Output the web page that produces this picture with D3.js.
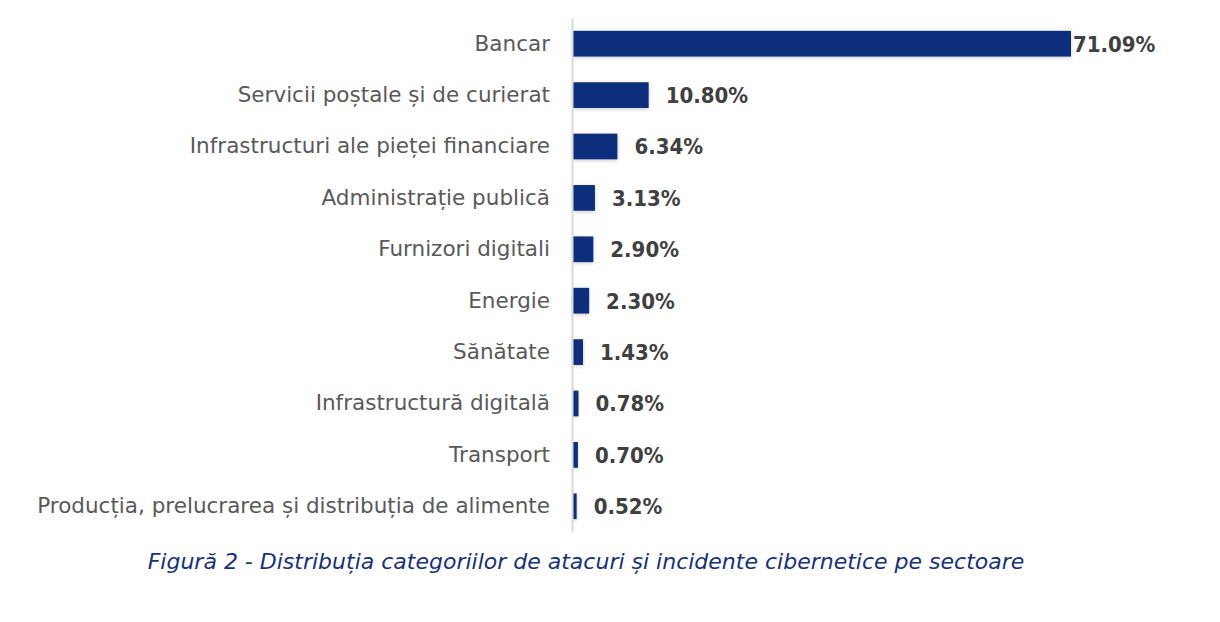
<!DOCTYPE html>
<html>
<head>
<meta charset="utf-8">
<script src="https://cdn.jsdelivr.net/npm/d3@7"></script>
<style>
  body { margin: 0; background: #fff; }
</style>
</head>
<body>
<div id="chart"></div>
<script>
// sectors and their share of incidents (%)
var sectors = [
  "Bancar",
  "Servicii poștale și de curierat",
  "Infrastructuri ale pieței financiare",
  "Administrație publică",
  "Furnizori digitali",
  "Energie",
  "Sănătate",
  "Infrastructură digitală",
  "Transport",
  "Producția, prelucrarea și distribuția de alimente"
];
var shares = [71.09, 10.80, 6.34, 3.13, 2.90, 2.30, 1.43, 0.78, 0.70, 0.52];
var caption = "Figură 2 - Distribuția categoriilor de atacuri și incidente cibernetice pe sectoare";

var W = 1220, H = 622;
var margin = { top: 18, right: 63, bottom: 90, left: 572 };
var width = W - margin.left - margin.right,
  height = H - margin.top - margin.bottom;
var font = "'DejaVu Sans', sans-serif";
var fontCond = "'DejaVu Sans Condensed', 'DejaVu Sans', sans-serif";

var rows = sectors.map(function (s, i) { return { name: s, v: shares[i] }; });

var svg = d3.select("#chart")
  .append("svg")
  .attr("width", W)
  .attr("height", H);

// soft shadow under the bars
var defs = svg.append("defs");
var f = defs.append("filter").attr("id", "shadow")
  .attr("x", "-10%").attr("y", "-40%").attr("width", "120%").attr("height", "180%");
f.append("feDropShadow").attr("dx", 0).attr("dy", 1).attr("stdDeviation", 2)
  .attr("flood-color", "#000").attr("flood-opacity", 0.22);

var g = svg.append("g")
  .attr("transform", "translate(" + margin.left + "," + margin.top + ")");

var y = d3.scaleBand()
  .domain(sectors)
  .range([0, height])
  .paddingInner(0.5)
  .paddingOuter(0.25);

var x = d3.scaleLinear()
  .domain([0, 71.09])
  .range([1, 499]);

// bars
g.selectAll(".bar")
  .data(rows)
  .enter()
  .append("rect")
  .attr("class", "bar")
  .attr("x", x(0))
  .attr("y", function (d) { return y(d.name); })
  .attr("width", function (d) { return x(d.v) - x(0); })
  .attr("height", y.bandwidth())
  .attr("fill", "#112d7b")
  .attr("filter", "url(#shadow)");

// category axis
var yAxis = g.append("g")
  .call(d3.axisLeft(y).tickSize(0).tickPadding(22));
yAxis.select(".domain")
  .attr("stroke", "#d9d9d9")
  .attr("stroke-width", 2);
yAxis.selectAll("text")
  .style("font-family", font)
  .style("font-size", "21.5px")
  .attr("fill", "#595959");

// value labels (the longest bar keeps its label tight to the bar)
g.selectAll(".val")
  .data(rows)
  .enter()
  .append("text")
  .attr("class", "val")
  .attr("x", function (d) { return d.v === d3.max(shares) ? x(d.v) + 2 : x(d.v) + 17; })
  .attr("y", function (d) { return y(d.name) + y.bandwidth() / 2; })
  .attr("dy", "0.36em")
  .style("font-family", fontCond)
  .style("font-weight", "bold")
  .style("font-size", "22px")
  .attr("fill", "#404040")
  .text(function (d) { return d3.format(".2f")(d.v) + "%"; });

// caption
svg.append("text")
  .attr("x", 586)
  .attr("y", 569)
  .attr("text-anchor", "middle")
  .style("font-family", font)
  .style("font-style", "italic")
  .style("font-size", "22px")
  .attr("fill", "#17317c")
  .text(caption);
</script>
</body>
</html>
